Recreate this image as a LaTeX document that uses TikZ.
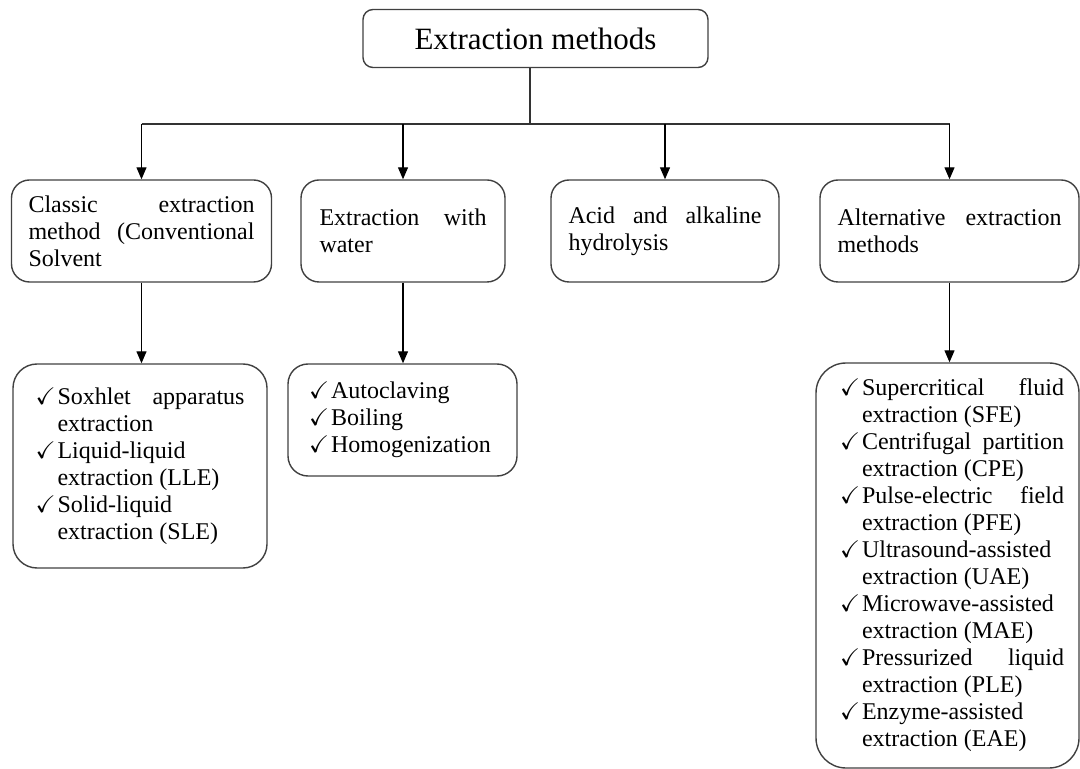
\documentclass[tikz,border=0pt]{standalone}
\usepackage{fontspec}
\setmainfont{Liberation Serif}
\usepackage{amssymb}
\usetikzlibrary{arrows.meta,positioning}

\hyphenpenalty=10000
\exhyphenpenalty=10000
% one ticked item with hanging indent
\newcommand{\chk}[1]{\hangindent=11pt\hangafter=1\noindent\makebox[11pt][l]{$\checkmark$}#1\par}

\begin{document}
\begin{tikzpicture}[x=0.5pt,y=-0.5pt,
    box/.style={draw=black!75, line width=0.7pt, inner sep=0pt,
                font=\fontsize{12}{13.5}\selectfont},
    link/.style={draw=black!80, line width=0.7pt},
    arr/.style={draw=black, line width=0.6pt, -{Triangle[length=6pt,width=5pt]}}]
\useasboundingbox (0,0) rectangle (1080,769);

% root
\node[box, rounded corners=5pt, minimum width=172.5pt, minimum height=29pt,
      font=\fontsize{15.5}{18}\selectfont] (root) at (535.5,38.5) {Extraction methods};

% first level
\node[box, rounded corners=9pt, minimum width=130pt, minimum height=51pt] (classic) at (141.5,231)
    {\parbox{113pt}{Classic extraction\linebreak method (Conventional\linebreak Solvent}};
\node[box, rounded corners=9pt, minimum width=102pt, minimum height=51pt] (water) at (403,231)
    {\parbox{83.5pt}{Extraction with\linebreak water}};
\node[box, rounded corners=9pt, minimum width=114pt, minimum height=51pt] (acid) at (665,231)
    {\parbox{96.5pt}{Acid and alkaline\linebreak hydrolysis}};
\node[box, rounded corners=9pt, minimum width=129.5pt, minimum height=51pt] (alt) at (949.5,231)
    {\parbox{112pt}{Alternative extraction\linebreak methods}};

% second level
\node[box, rounded corners=12pt, minimum width=127pt, minimum height=102pt] (classiclist) at (140,466)
    {\parbox{104.5pt}{%
      \chk{Soxhlet apparatus\linebreak extraction}
      \chk{Liquid-liquid\newline extraction (LLE)}
      \chk{Solid-liquid\newline extraction (SLE)}}};
\node[box, rounded corners=10pt, minimum width=114.5pt, minimum height=56pt] (waterlist) at (402.5,420)
    {\parbox{93.5pt}{%
      \chk{Autoclaving}
      \chk{Boiling}
      \chk{Homogenization}}};
\node[box, rounded corners=15pt, minimum width=131.5pt, minimum height=202.5pt] (altlist) at (947.5,565.5)
    {\hspace*{4.5pt}\parbox{112pt}{%
      \chk{Supercritical fluid\linebreak extraction (SFE)}
      \chk{Centrifugal partition\linebreak extraction (CPE)}
      \chk{Pulse-electric field\linebreak extraction (PFE)}
      \chk{Ultrasound-assisted\newline extraction (UAE)}
      \chk{Microwave-assisted\newline extraction (MAE)}
      \chk{Pressurized liquid\linebreak extraction (PLE)}
      \chk{Enzyme-assisted\newline extraction (EAE)}}};

% connectors
\coordinate (split) at (530,124);
\draw[link] (split |- root.south) -- (split);
\draw[link] (classic.north |- split) -- (alt.north |- split);
\foreach \n in {classic,water,acid,alt}
    \draw[arr] (\n.north |- split) -- (\n.north);
\foreach \a/\b in {classic/classiclist,water/waterlist,alt/altlist}
    \draw[arr] (\a.south) -- (\a.south |- \b.north);
\end{tikzpicture}
\end{document}
